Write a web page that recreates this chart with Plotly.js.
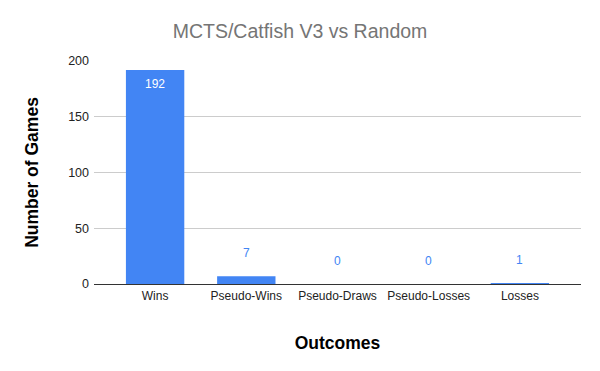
<!DOCTYPE html>
<html>
<head>
<meta charset="utf-8">
<script src="https://cdn.plot.ly/plotly-3.0.1.min.js"></script>
<style>html,body{margin:0;padding:0;background:#fff;}#chart{width:600px;height:371px;}</style>
</head>
<body>
<div id="chart"></div>
<script>
var categories = ["Wins", "Pseudo-Wins", "Pseudo-Draws", "Pseudo-Losses", "Losses"];
var games = [192, 7, 0, 0, 1];
var yTicks = [0, 50, 100, 150, 200];

var blue = "#4285F4";
var font = "Arial, 'Liberation Sans', sans-serif";

var trace = {
  type: "bar",
  x: categories,
  y: games,
  marker: {color: blue},
  width: 0.64,
  hoverinfo: "x+y"
};

var annotations = categories.map(function (c, i) {
  var inside = games[i] > 30;
  return {
    x: c, y: games[i], xref: "x", yref: "y",
    text: String(games[i]),
    showarrow: false,
    yanchor: inside ? "top" : "bottom",
    yshift: inside ? -5 : 14,
    font: {family: font, size: 12, color: inside ? "#ffffff" : blue}
  };
});

var layout = {
  width: 600, height: 371,
  margin: {l: 94, r: 19, t: 61, b: 87},
  paper_bgcolor: "#fff", plot_bgcolor: "#fff",
  title: {text: "MCTS/Catfish V3 vs Random", font: {family: font, size: 19.5, color: "#757575"}, x: 0.5, xanchor: "center", y: 0.915, yanchor: "middle"},
  showlegend: false,
  xaxis: {
    range: [-0.67, 4.67],
    tickfont: {family: font, size: 12, color: "#222"},
    ticklabelstandoff: 3,
    showgrid: false, ticks: "", showline: false, zeroline: false,
    title: {text: "<b>Outcomes</b>", font: {family: font, size: 17.5, color: "#000"}, standoff: 34}
  },
  yaxis: {
    range: [0, 200],
    tickvals: yTicks,
    ticktext: yTicks.map(String),
    tickfont: {family: font, size: 12.5, color: "#222"},
    ticklabelstandoff: 4,
    gridcolor: "#cccccc", gridwidth: 1,
    zeroline: true, zerolinecolor: "#333", zerolinewidth: 1,
    showline: false, ticks: "", ticklen: 0,
    title: {text: "<b>Number of Games</b>", font: {family: font, size: 17.5, color: "#000"}, standoff: 25}
  },
  annotations: annotations
};

Plotly.newPlot("chart", [trace], layout, {displayModeBar: false, staticPlot: true});
</script>
</body>
</html>
